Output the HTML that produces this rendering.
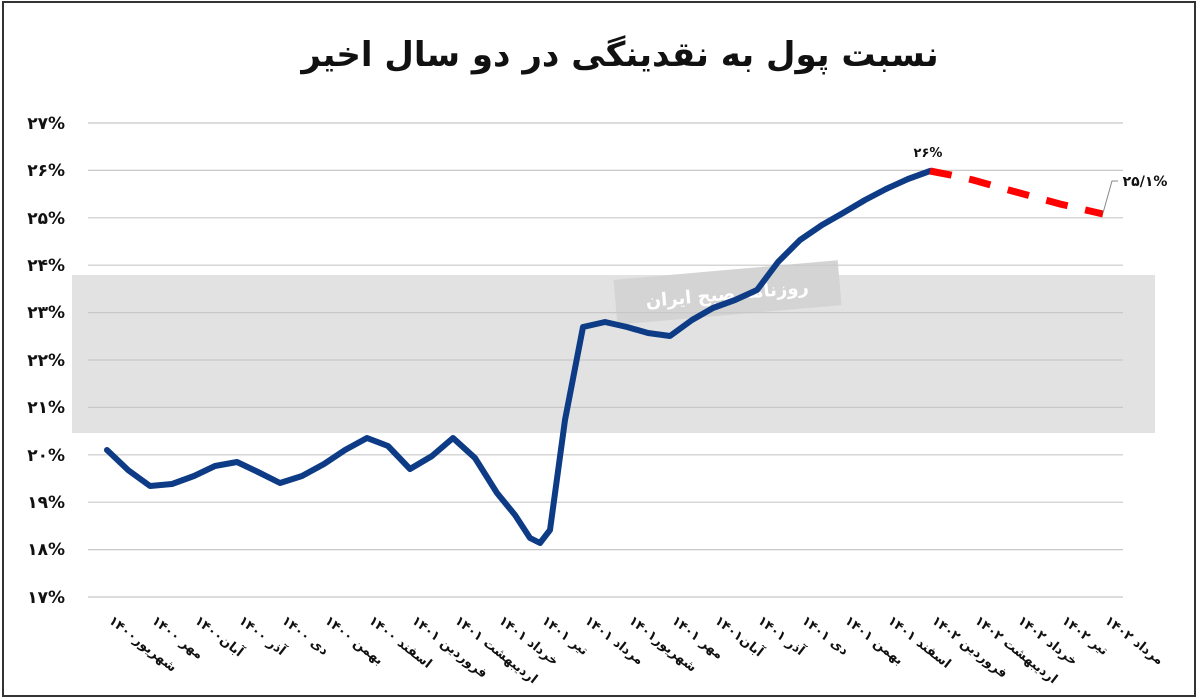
<!DOCTYPE html>
<html><head><meta charset="utf-8"><style>
body{margin:0;background:#fff;}
svg{display:block;font-family:"DejaVu Sans","Liberation Sans",sans-serif;}
</style></head><body>
<svg width="1200" height="699" viewBox="0 0 1200 699" xmlns="http://www.w3.org/2000/svg">
<rect x="0" y="0" width="1200" height="699" fill="#fff"/>
<rect x="3" y="2" width="1192" height="694" fill="none" stroke="#333" stroke-width="2"/>
<text x="620" y="66" text-anchor="middle" font-size="34" font-weight="bold" fill="#111" direction="rtl">نسبت پول به نقدینگی در دو سال اخیر</text>
<rect x="72" y="275" width="1083" height="158" fill="#e2e2e2"/>
<rect x="615" y="270" width="225" height="45" fill="#d4d4d4" transform="rotate(-5 727 292)"/>
<text x="727" y="300" text-anchor="middle" font-size="18" font-weight="bold" fill="#fff" transform="rotate(-5 727 292)" direction="rtl">روزنامه صبح ایران</text>
<g stroke="#c8c8c8" stroke-width="1.2">
<line x1="88" y1="123" x2="1123" y2="123"/><line x1="88" y1="170.4" x2="1123" y2="170.4"/>
<line x1="88" y1="217.8" x2="1123" y2="217.8"/><line x1="88" y1="265.2" x2="1123" y2="265.2"/>
<line x1="88" y1="312.6" x2="1123" y2="312.6"/><line x1="88" y1="360" x2="1123" y2="360"/>
<line x1="88" y1="407.4" x2="1123" y2="407.4"/><line x1="88" y1="454.8" x2="1123" y2="454.8"/>
<line x1="88" y1="502.2" x2="1123" y2="502.2"/><line x1="88" y1="549.6" x2="1123" y2="549.6"/>
<line x1="88" y1="597" x2="1123" y2="597"/>
</g>
<g font-size="17" font-weight="bold" fill="#111" text-anchor="end">
<text x="65" y="129">۲۷%</text><text x="65" y="176">۲۶%</text><text x="65" y="224">۲۵%</text>
<text x="65" y="271">۲۴%</text><text x="65" y="318">۲۳%</text><text x="65" y="366">۲۲%</text>
<text x="65" y="413">۲۱%</text><text x="65" y="461">۲۰%</text><text x="65" y="508">۱۹%</text>
<text x="65" y="555">۱۸%</text><text x="65" y="603">۱۷%</text>
</g>
<polyline fill="none" stroke="#0d3b86" stroke-width="6" stroke-linejoin="round" stroke-linecap="round"
points="107,450 128,470 150,486 172,484 194,476 215,466 237,462 258,472 280,483 302,476 324,464 345,450 367,438 388,446 410,469 432,456 453,438 475,458 497,493 515,515 530,538 540,543 550,530 565,420 583,327 605,322 627,327 648,333 670,336 692,320 713,308 735,300 757,290 778,262 800,240 822,225 843,213 865,200 886,189 908,179 930,171"/>
<polyline fill="none" stroke="#ff0000" stroke-width="7" stroke-dasharray="22 18" stroke-linecap="butt"
points="930,171 951,175 973,180 1016,192 1060,204 1103,214"/>
<text x="928" y="157" text-anchor="middle" font-size="13" font-weight="bold" fill="#111">۲۶%</text>
<polyline fill="none" stroke="#888" stroke-width="1" points="1103,213 1112,181 1118,181"/>
<text x="1145" y="186" text-anchor="middle" font-size="14" font-weight="bold" fill="#111">۲۵/۱%</text>
<g font-size="13" font-weight="bold" fill="#111">
<text transform="translate(108,622) rotate(38)">شهریور۱۴۰۰</text>
<text transform="translate(151,622) rotate(38)">مهر ۱۴۰۰</text>
<text transform="translate(194,622) rotate(38)">آبان۱۴۰۰</text>
<text transform="translate(238,622) rotate(38)">آذر ۱۴۰۰</text>
<text transform="translate(281,622) rotate(38)">دی ۱۴۰۰</text>
<text transform="translate(324,622) rotate(38)">بهمن ۱۴۰۰</text>
<text transform="translate(368,622) rotate(38)">اسفند ۱۴۰۰</text>
<text transform="translate(411,622) rotate(38)">فروردین ۱۴۰۱</text>
<text transform="translate(454,622) rotate(38)">اردیبهشت ۱۴۰۱</text>
<text transform="translate(498,622) rotate(38)">خرداد ۱۴۰۱</text>
<text transform="translate(541,622) rotate(38)">تیر ۱۴۰۱</text>
<text transform="translate(584,622) rotate(38)">مرداد ۱۴۰۱</text>
<text transform="translate(628,622) rotate(38)">شهریور۱۴۰۱</text>
<text transform="translate(671,622) rotate(38)">مهر ۱۴۰۱</text>
<text transform="translate(714,622) rotate(38)">آبان۱۴۰۱</text>
<text transform="translate(757,622) rotate(38)">آذر ۱۴۰۱</text>
<text transform="translate(801,622) rotate(38)">دی ۱۴۰۱</text>
<text transform="translate(844,622) rotate(38)">بهمن ۱۴۰۱</text>
<text transform="translate(887,622) rotate(38)">اسفند ۱۴۰۱</text>
<text transform="translate(931,622) rotate(38)">فروردین ۱۴۰۲</text>
<text transform="translate(974,622) rotate(38)">اردیبهشت ۱۴۰۲</text>
<text transform="translate(1017,622) rotate(38)">خرداد ۱۴۰۲</text>
<text transform="translate(1061,622) rotate(38)">تیر ۱۴۰۲</text>
<text transform="translate(1104,622) rotate(38)">مرداد ۱۴۰۲</text>
</g>
</svg>
</body></html>
